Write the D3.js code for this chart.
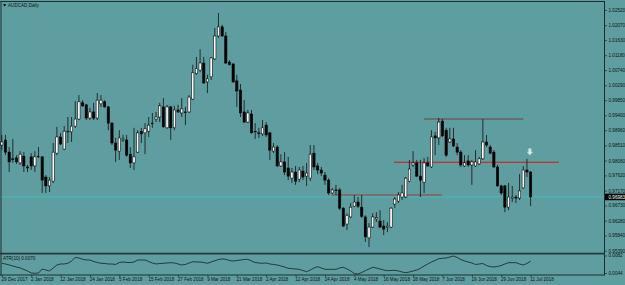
<!DOCTYPE html>
<html><head><meta charset="utf-8">
<script src="https://cdn.jsdelivr.net/npm/d3@7"></script>
<style>html,body{margin:0;padding:0;background:#5f9ea0;overflow:hidden}svg{display:block}</style>
</head><body><svg id="c" width="625" height="285"></svg>
<script>
const opens = [0.9852,0.9867,0.9831,0.9811,0.9814,0.9799,0.9819,0.9787,0.9817,0.9790,
0.9817,0.9817,0.9757,0.9731,0.9745,0.9828,0.9876,0.9840,0.9891,0.9891,
0.9908,0.9929,0.9977,0.9971,0.9932,0.9950,0.9932,0.9974,0.9980,0.9965,
0.9917,0.9858,0.9834,0.9867,0.9867,0.9825,0.9799,0.9831,0.9893,0.9888,
0.9893,0.9916,0.9929,0.9935,0.9965,0.9903,0.9965,0.9903,0.9956,0.9947,
0.9950,0.9950,0.9988,1.0063,1.0074,1.0095,1.0039,1.0054,1.0107,1.0175,
1.0202,1.0175,1.0098,1.0092,1.0042,1.0015,0.9950,0.9920,0.9944,0.9893,
0.9888,0.9885,0.9911,0.9888,0.9834,0.9846,0.9790,0.9802,0.9784,0.9754,
0.9772,0.9751,0.9775,0.9760,0.9754,0.9828,0.9790,0.9778,0.9763,0.9748,
0.9710,0.9719,0.9719,0.9665,0.9618,0.9639,0.9671,0.9683,0.9668,0.9639,
0.9577,0.9609,0.9633,0.9627,0.9612,0.9609,0.9609,0.9677,0.9686,0.9698,
0.9698,0.9745,0.9793,0.9799,0.9760,0.9742,0.9799,0.9787,0.9879,0.9873,
0.9923,0.9896,0.9861,0.9870,0.9846,0.9831,0.9790,0.9805,0.9793,0.9790,
0.9796,0.9811,0.9861,0.9846,0.9831,0.9787,0.9731,0.9731,0.9668,0.9695,
0.9698,0.9695,0.9725,0.9778,0.9772];
const highs = [0.9882,0.9882,0.9846,0.9870,0.9822,0.9834,0.9831,0.9793,0.9828,0.9834,
0.9846,0.9819,0.9763,0.9757,0.9858,0.9906,0.9888,0.9908,0.9935,0.9935,
0.9982,1.0000,0.9985,0.9974,0.9962,0.9977,1.0006,1.0000,0.9985,0.9968,
0.9920,0.9873,0.9896,0.9882,0.9882,0.9846,0.9903,0.9896,0.9903,0.9917,
0.9935,0.9947,0.9950,0.9977,0.9991,0.9971,0.9968,0.9968,0.9971,0.9991,
0.9965,1.0000,1.0090,1.0113,1.0136,1.0113,1.0060,1.0113,1.0199,1.0243,
1.0208,1.0187,1.0104,1.0095,1.0060,1.0033,0.9985,0.9956,0.9956,0.9917,
0.9903,0.9926,0.9920,0.9891,0.9858,0.9852,0.9825,0.9831,0.9817,0.9784,
0.9790,0.9787,0.9790,0.9799,0.9852,0.9852,0.9799,0.9787,0.9772,0.9754,
0.9725,0.9734,0.9725,0.9668,0.9650,0.9680,0.9704,0.9698,0.9704,0.9644,
0.9621,0.9650,0.9653,0.9659,0.9630,0.9624,0.9668,0.9698,0.9713,0.9734,
0.9757,0.9808,0.9834,0.9808,0.9808,0.9814,0.9817,0.9896,0.9891,0.9932,
0.9929,0.9903,0.9903,0.9903,0.9858,0.9837,0.9822,0.9822,0.9808,0.9837,
0.9817,0.9929,0.9882,0.9852,0.9837,0.9793,0.9734,0.9734,0.9740,0.9731,
0.9704,0.9766,0.9790,0.9811,0.9775];
const lows = [0.9837,0.9822,0.9772,0.9799,0.9796,0.9793,0.9772,0.9772,0.9778,0.9772,
0.9814,0.9710,0.9710,0.9713,0.9740,0.9822,0.9852,0.9837,0.9858,0.9861,
0.9903,0.9926,0.9965,0.9926,0.9926,0.9926,0.9926,0.9965,0.9962,0.9896,
0.9852,0.9802,0.9808,0.9861,0.9817,0.9784,0.9778,0.9828,0.9858,0.9825,
0.9876,0.9903,0.9920,0.9920,0.9903,0.9900,0.9867,0.9896,0.9947,0.9935,
0.9911,0.9947,0.9985,1.0060,1.0068,1.0033,1.0006,1.0045,1.0104,1.0170,
1.0172,1.0092,1.0087,1.0036,0.9965,0.9935,0.9917,0.9917,0.9885,0.9870,
0.9873,0.9879,0.9876,0.9808,0.9828,0.9787,0.9787,0.9763,0.9748,0.9740,
0.9734,0.9742,0.9748,0.9731,0.9745,0.9778,0.9766,0.9760,0.9734,0.9704,
0.9707,0.9704,0.9659,0.9609,0.9600,0.9636,0.9668,0.9665,0.9636,0.9565,
0.9550,0.9606,0.9624,0.9606,0.9585,0.9594,0.9606,0.9665,0.9680,0.9689,
0.9695,0.9742,0.9787,0.9757,0.9698,0.9710,0.9787,0.9784,0.9822,0.9852,
0.9876,0.9817,0.9858,0.9846,0.9822,0.9787,0.9787,0.9787,0.9734,0.9787,
0.9793,0.9808,0.9846,0.9825,0.9784,0.9728,0.9704,0.9653,0.9659,0.9683,
0.9680,0.9689,0.9722,0.9757,0.9671];
const closes = [0.9861,0.9831,0.9802,0.9810,0.9802,0.9825,0.9790,0.9784,0.9790,0.9817,
0.9819,0.9748,0.9731,0.9748,0.9831,0.9876,0.9855,0.9893,0.9893,0.9908,
0.9929,0.9980,0.9968,0.9932,0.9950,0.9932,0.9985,0.9985,0.9965,0.9917,
0.9858,0.9837,0.9873,0.9870,0.9822,0.9799,0.9817,0.9888,0.9885,0.9900,
0.9911,0.9917,0.9935,0.9968,0.9906,0.9965,0.9903,0.9956,0.9950,0.9959,
0.9949,0.9994,1.0066,1.0078,1.0095,1.0036,1.0048,1.0110,1.0175,1.0202,
1.0175,1.0095,1.0090,1.0039,1.0012,0.9947,0.9920,0.9947,0.9888,0.9891,
0.9887,0.9903,0.9882,0.9837,0.9846,0.9790,0.9802,0.9772,0.9760,0.9772,
0.9745,0.9778,0.9757,0.9769,0.9825,0.9787,0.9778,0.9769,0.9748,0.9710,
0.9719,0.9717,0.9665,0.9612,0.9644,0.9668,0.9683,0.9671,0.9641,0.9580,
0.9609,0.9639,0.9637,0.9609,0.9603,0.9612,0.9665,0.9692,0.9704,0.9710,
0.9754,0.9781,0.9799,0.9760,0.9748,0.9799,0.9790,0.9876,0.9873,0.9920,
0.9879,0.9822,0.9870,0.9849,0.9831,0.9793,0.9799,0.9793,0.9802,0.9802,
0.9811,0.9861,0.9852,0.9828,0.9787,0.9731,0.9710,0.9668,0.9698,0.9698,
0.9695,0.9716,0.9778,0.9772,0.96983];
const atrValues = [0.00651,0.00636,0.00614,0.00592,0.00570,0.00549,0.00516,0.00484,0.00440,0.00434,
0.00440,0.00527,0.00505,0.00484,0.00549,0.00614,0.00636,0.00636,0.00651,0.00701,
0.00777,0.00766,0.00738,0.00722,0.00722,0.00690,0.00668,0.00651,0.00646,0.00636,
0.00636,0.00625,0.00668,0.00679,0.00668,0.00668,0.00679,0.00722,0.00722,0.00722,
0.00690,0.00657,0.00636,0.00646,0.00651,0.00657,0.00664,0.00657,0.00636,0.00614,
0.00625,0.00657,0.00685,0.00679,0.00679,0.00668,0.00651,0.00679,0.00707,0.00733,
0.00744,0.00738,0.00711,0.00701,0.00711,0.00722,0.00733,0.00738,0.00701,0.00668,
0.00657,0.00651,0.00657,0.00636,0.00625,0.00614,0.00592,0.00570,0.00542,0.00534,
0.00527,0.00520,0.00494,0.00468,0.00505,0.00549,0.00577,0.00549,0.00520,0.00520,
0.00520,0.00520,0.00549,0.00564,0.00527,0.00484,0.00429,0.00419,0.00451,0.00490,
0.00527,0.00564,0.00549,0.00527,0.00505,0.00490,0.00494,0.00499,0.00484,0.00462,
0.00447,0.00462,0.00484,0.00505,0.00542,0.00592,0.00636,0.00679,0.00711,0.00751,
0.00759,0.00766,0.00787,0.00809,0.00777,0.00733,0.00701,0.00679,0.00657,0.00625,
0.00636,0.00646,0.00603,0.00577,0.00570,0.00581,0.00603,0.00636,0.00664,0.00664,
0.00664,0.00636,0.00614,0.00646,0.00698];

const priceTicks = [1.02520,1.02070,1.01630,1.01180,1.00740,1.00290,0.99850,0.99400,0.98960,
0.98510,0.98060,0.97620,0.97170,0.96730,0.96280,0.95840,0.95390];
const atrTicks = [0.0082,0.0044];
const dateTickBars = [0,8,16,24,32,40,48,56,64,72,80,88,96,104,112,120,128,136,144];
const dateTickLabels = ["29 Dec 2017","2 Jan 2018","12 Jan 2018","24 Jan 2018","5 Feb 2018",
"15 Feb 2018","27 Feb 2018","9 Mar 2018","21 Mar 2018","2 Apr 2018","12 Apr 2018","24 Apr 2018",
"4 May 2018","16 May 2018","28 May 2018","7 Jun 2018","19 Jun 2018","29 Jun 2018","11 Jul 2018"];
const bidPrice = 0.96983;
const levelPrices = [0.9801, 0.9929, 0.9704];
const levelFrom = [106.8, 115.0, 89.8];
const levelTo = [151.7, 142.0, 119.8];
const levelColors = ["#e01010", "#8a3030", "#a83030"];
const arrowBar = 143.8, arrowPrice = 0.9822;
const titleText = "AUDCAD,Daily";
const atrLabel = "ATR(10) 0.0070";

const svg = d3.select("#c");
const FONT = "'Liberation Sans', Arial, sans-serif";
const FS = 4.6;
svg.append("rect").attr("width",625).attr("height",285).attr("fill","#5f9ea0");

const x = d3.scaleLinear().domain([0,144]).range([1.8,530.6]);
const y = d3.scaleLinear().domain([0.95390,1.02520]).range([250.7,10]);
const ya = d3.scaleLinear().domain([0.0044,0.0082]).range([273,255.5]);

const frame = "#1b2e2e";
svg.append("line").attr("x1",0.5).attr("x2",604.5).attr("y1",1.5).attr("y2",1.5).attr("stroke",frame).attr("stroke-width",1);
svg.append("line").attr("x1",1).attr("x2",1).attr("y1",1).attr("y2",275.5).attr("stroke",frame).attr("stroke-width",1);
svg.append("line").attr("x1",604.5).attr("x2",604.5).attr("y1",1).attr("y2",275.5).attr("stroke",frame).attr("stroke-width",1);
svg.append("line").attr("x1",0).attr("x2",604.5).attr("y1",253.6).attr("y2",253.6).attr("stroke","#243838").attr("stroke-width",1.8);
svg.append("line").attr("x1",0).attr("x2",604.5).attr("y1",275).attr("y2",275).attr("stroke",frame).attr("stroke-width",1);

svg.append("line").attr("x1",1.5).attr("x2",604).attr("y1",y(bidPrice)).attr("y2",y(bidPrice))
  .attr("stroke","#3fc2c2").attr("stroke-width",0.8);

levelPrices.forEach((p,k)=>{
  if(k===1){
    svg.append("line").attr("x1",x(levelFrom[k])).attr("x2",x(levelTo[k]))
      .attr("y1",y(p)-0.9).attr("y2",y(p)-0.9).attr("stroke","#3aa8a8").attr("stroke-width",0.8);
  }
  svg.append("line").attr("x1",x(levelFrom[k])).attr("x2",x(levelTo[k]))
    .attr("y1",y(p)).attr("y2",y(p)).attr("stroke",levelColors[k]).attr("stroke-width",k===0?1.1:0.9);
});

const idx = d3.range(opens.length);
const g = svg.append("g");
g.selectAll("line.w").data(idx).join("line").attr("class","w")
  .attr("x1",i=>x(i)).attr("x2",i=>x(i))
  .attr("y1",i=>y(highs[i])).attr("y2",i=>y(lows[i]))
  .attr("stroke","#111").attr("stroke-width",0.8);
g.selectAll("rect.b").data(idx).join("rect").attr("class","b")
  .attr("x",i=>x(i)-1.15).attr("width",2.3)
  .attr("y",i=>y(Math.max(opens[i],closes[i])))
  .attr("height",i=>Math.max(0.7,Math.abs(y(opens[i])-y(closes[i]))))
  .attr("fill",i=>closes[i]>=opens[i]?"#ffffff":"#000000")
  .attr("stroke","#000").attr("stroke-width",0.55);

const ax = x(arrowBar), ay = y(arrowPrice);
svg.append("path")
  .attr("d",`M${ax-1.3},${ay-6.6}L${ax+1.3},${ay-6.6}L${ax+1.3},${ay-3.2}L${ax+2.8},${ay-3.2}L${ax},${ay}L${ax-2.8},${ay-3.2}L${ax-1.3},${ay-3.2}Z`)
  .attr("fill","#d6ecec").attr("stroke","#9fd0d0").attr("stroke-width",0.6);

const pa = svg.append("g").attr("transform","translate(604.5,0)")
  .call(d3.axisRight(y).tickValues(priceTicks).tickFormat(d3.format(".5f")).tickSize(2.5).tickPadding(1.5));
pa.select(".domain").remove();
pa.selectAll("line").attr("stroke",frame).attr("stroke-width",0.7);
pa.selectAll("text").attr("font-family",FONT).attr("font-size",FS).attr("fill","#0a1414");

svg.append("rect").attr("x",605).attr("y",y(bidPrice)-3.3).attr("width",20).attr("height",6.6).attr("fill","#000");
svg.append("text").attr("x",608.5).attr("y",y(bidPrice)).attr("dy","0.35em").text(d3.format(".5f")(bidPrice))
  .attr("font-family",FONT).attr("font-size",FS).attr("fill","#fff");

const aa = svg.append("g").attr("transform","translate(604.5,0)")
  .call(d3.axisRight(ya).tickValues(atrTicks).tickFormat(d3.format(".4f")).tickSize(2.5).tickPadding(1.5));
aa.select(".domain").remove();
aa.selectAll("line").attr("stroke",frame).attr("stroke-width",0.7);
aa.selectAll("text").attr("font-family",FONT).attr("font-size",FS).attr("fill","#0a1414");

svg.append("path").datum(idx)
  .attr("d",d3.line().x(i=>x(i)).y(i=>ya(atrValues[i])))
  .attr("fill","none").attr("stroke","#0d1a1a").attr("stroke-width",0.75);

const da = svg.append("g").attr("transform","translate(0,275)")
  .call(d3.axisBottom(x).tickValues(dateTickBars).tickFormat((d,i)=>dateTickLabels[i]).tickSize(2).tickPadding(1));
da.select(".domain").remove();
da.selectAll("line").attr("stroke",frame).attr("stroke-width",0.7);
da.selectAll("text").attr("font-family",FONT).attr("font-size",FS).attr("fill","#0a1414")
  .attr("text-anchor","start").attr("dx",-0.8);

svg.append("path").attr("d","M3,4.2L6.4,4.2L4.7,6.6Z").attr("fill","#000");
svg.append("text").attr("x",8).attr("y",5.4).attr("dy","0.35em").text(titleText)
  .attr("font-family",FONT).attr("font-size",FS).attr("fill","#0a1414");
svg.append("text").attr("x",3).attr("y",258.3).attr("dy","0.35em").text(atrLabel)
  .attr("font-family",FONT).attr("font-size",FS).attr("fill","#0a1414");
</script></body></html>
